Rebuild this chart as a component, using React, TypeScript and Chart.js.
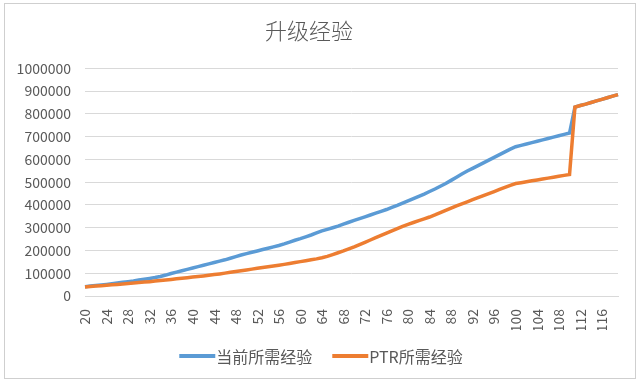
import React, { useEffect, useRef } from 'react';
import { Chart, registerables } from 'chart.js';

Chart.register(...registerables);

const chartTitle = '升级经验';
const seriesNames = ['当前所需经验', 'PTR所需经验'];

const levels = [
  20, 21, 22, 23, 24, 25, 26, 27, 28, 29,
  30, 31, 32, 33, 34, 35, 36, 37, 38, 39,
  40, 41, 42, 43, 44, 45, 46, 47, 48, 49,
  50, 51, 52, 53, 54, 55, 56, 57, 58, 59,
  60, 61, 62, 63, 64, 65, 66, 67, 68, 69,
  70, 71, 72, 73, 74, 75, 76, 77, 78, 79,
  80, 81, 82, 83, 84, 85, 86, 87, 88, 89,
  90, 91, 92, 93, 94, 95, 96, 97, 98, 99,
  100, 101, 102, 103, 104, 105, 106, 107, 108, 109,
  110, 111, 112, 113, 114, 115, 116, 117, 118, 119,
];

const currentExp = [
  41000, 43500, 46000, 48500, 51000, 54000, 57000, 60000, 63000, 66000,
  70000, 73500, 77000, 81000, 86000, 92000, 99000, 105000, 111000, 117000,
  123000, 129000, 135000, 141000, 147000, 153000, 159000, 166000, 173000, 180000,
  186000, 192000, 198000, 204000, 210000, 216000, 222000, 229000, 237000, 245000,
  252000, 260000, 268000, 277000, 286000, 293000, 300000, 307000, 316000, 324000,
  332000, 340000, 348000, 356000, 364000, 372000, 380000, 389000, 398000, 408000,
  418000, 428000, 438000, 448000, 459000, 470000, 482000, 494000, 508000, 522000,
  536000, 549000, 561000, 573000, 585000, 597000, 609000, 621000, 633000, 645000,
  656000, 662000, 668000, 674000, 680000, 686000, 692000, 698000, 704000, 710000,
  716000, 830000, 837000, 843000, 850000, 857000, 864000, 871000, 878000, 885000,
];

const ptrExp = [
  40000, 41800, 43600, 45400, 47200, 49000, 51000, 53000, 55000, 57000,
  59000, 61000, 63000, 65500, 68000, 70500, 73000, 75500, 78000, 80500,
  83000, 85500, 88000, 91000, 94000, 97000, 100500, 104000, 107500, 111000,
  114500, 118000, 121500, 125000, 128500, 132000, 135500, 139000, 143000, 147000,
  151000, 155000, 159000, 163000, 168000, 174000, 182000, 190000, 198000, 207000,
  216000, 226000, 236000, 246000, 256000, 266000, 276000, 286000, 296000, 306000,
  315000, 323000, 331000, 339000, 347000, 356000, 366000, 376000, 386000, 396000,
  405000, 414000, 423000, 432000, 441000, 450000, 459000, 468000, 477000, 486000,
  494000, 498000, 502000, 506000, 510000, 514000, 518000, 522000, 526000, 530000,
  534000, 830000, 837000, 843000, 850000, 857000, 864000, 871000, 878000, 885000,
];

const yMin = 0;
const yMax = 1000000;
const yStep = 100000;
const xLabelEvery = 4;

const CJK = '"Noto Sans CJK SC", "Noto Sans", sans-serif';
const TEXT = '#595959';
const GRID = '#d9d9d9';
const BLUE = '#5B9BD5';
const ORANGE = '#ED7D31';

const bottomLegend = {
  id: 'bottomLegend',
  afterDraw(chart: any) {
    const ctx = chart.ctx as CanvasRenderingContext2D;
    const sets = chart.data.datasets;
    const boxW = 36;
    const boxH = 4;
    const textGap = 1;
    const itemGap = 20;
    const y = 356;
    ctx.save();
    ctx.font = `16px ${CJK}`;
    const widths = sets.map((d: any) => boxW + textGap + ctx.measureText(d.label).width);
    const total = widths.reduce((a: number, b: number) => a + b, 0) + itemGap * (sets.length - 1);
    let x = chart.width / 2 + 1 - total / 2;
    sets.forEach((d: any, i: number) => {
      ctx.fillStyle = d.borderColor;
      ctx.fillRect(x, y - boxH / 2, boxW, boxH);
      ctx.fillStyle = TEXT;
      ctx.textAlign = 'left';
      ctx.textBaseline = 'middle';
      ctx.fillText(d.label, x + boxW + textGap, y + 1);
      x += widths[i] + itemGap;
    });
    ctx.restore();
  },
};

export default function App() {
  const ref = useRef<HTMLCanvasElement>(null);

  useEffect(() => {
    document.body.style.margin = '0';
    const canvas = ref.current;
    if (!canvas) return;
    const chart = new Chart(canvas, {
      type: 'line',
      data: {
        labels: levels.map(String),
        datasets: [
          {
            label: seriesNames[0],
            data: currentExp,
            borderColor: BLUE,
            backgroundColor: BLUE,
            borderWidth: 3.5,
            pointRadius: 0,
            tension: 0,
            order: 1,
          },
          {
            label: seriesNames[1],
            data: ptrExp,
            borderColor: ORANGE,
            backgroundColor: ORANGE,
            borderWidth: 3.5,
            pointRadius: 0,
            tension: 0,
            order: 0,
          },
        ],
      },
      options: {
        animation: false,
        responsive: false,
        layout: { padding: { left: 0, right: 22, top: 0, bottom: 54 } },
        plugins: {
          title: {
            display: true,
            text: chartTitle,
            color: TEXT,
            font: { family: CJK, size: 22, weight: '300' },
            padding: { top: 17, bottom: 25 },
          },
          legend: { display: false },
          tooltip: { enabled: false },
        },
        scales: {
          x: {
            grid: { display: false },
            border: { display: true, color: GRID },
            ticks: {
              autoSkip: false,
              minRotation: 90,
              maxRotation: 90,
              color: TEXT,
              padding: 5,
              font: { family: CJK, size: 14 },
              callback: (_v: any, i: number) => (i % xLabelEvery === 0 ? String(levels[i]) : ''),
            },
            afterFit: (s: any) => {
              s.height = 34;
            },
          },
          y: {
            min: yMin,
            max: yMax,
            grid: { color: GRID, drawTicks: false },
            border: { display: false },
            ticks: {
              stepSize: yStep,
              color: TEXT,
              padding: 14,
              font: { family: CJK, size: 14 },
              callback: (v: any) => String(v),
            },
            afterFit: (s: any) => {
              s.width = 85;
            },
          },
        },
      },
      plugins: [bottomLegend],
    });
    return () => chart.destroy();
  }, []);

  return (
    <div style={{ position: 'relative', width: 640, height: 384, background: '#fff', overflow: 'hidden' }}>
      <canvas ref={ref} width={640} height={384} style={{ display: 'block', width: 640, height: 384 }} />
      <div
        style={{
          position: 'absolute',
          left: 4,
          top: 3,
          width: 632,
          height: 376,
          border: '1px solid #cfcfcf',
          boxSizing: 'border-box',
          pointerEvents: 'none',
        }}
      />
    </div>
  );
}
